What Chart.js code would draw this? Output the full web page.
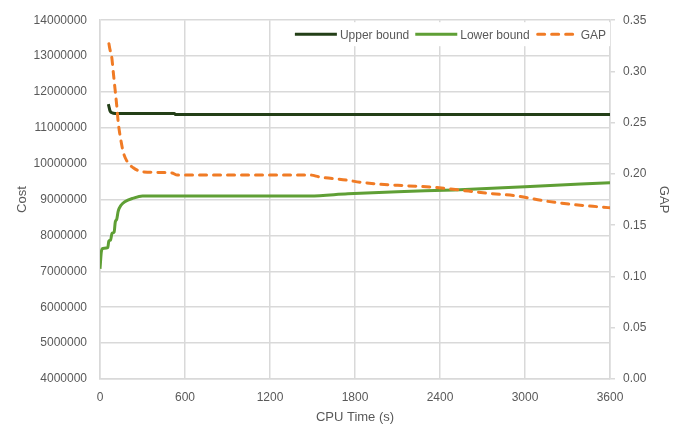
<!DOCTYPE html>
<html>
<head>
<meta charset="utf-8">
<script src="https://cdn.jsdelivr.net/npm/chart.js@4"></script>
<style>
  html, body { margin: 0; padding: 0; background: #fff; }
  #wrap { width: 677px; height: 429px; }
</style>
</head>
<body>
<div id="wrap"><canvas id="boundsChart" width="677" height="429"></canvas></div>
<script>
// Data
const xTicks = [0, 600, 1200, 1800, 2400, 3000, 3600];

const upperTime = [59, 64, 70, 85, 106, 525, 532, 3600];
const upperCost = [11660000, 11580000, 11480000, 11420000, 11400000, 11400000, 11370000, 11370000];

const lowerTime = [0, 10, 20, 55, 62, 75, 85, 100, 108, 118, 128, 150, 175, 235, 300, 1480, 1750, 2100, 2500, 3000, 3600];
const lowerCost = [7070000, 7560000, 7640000, 7660000, 7840000, 7880000, 8060000, 8100000, 8380000, 8450000, 8670000, 8850000, 8940000, 9040000, 9100000, 9100000, 9160000, 9220000, 9270000, 9360000, 9470000];

const gapTime = [63, 71, 82, 94, 106, 118, 129, 146, 165, 188, 235, 306, 506, 546, 1480, 1553, 1741, 1835, 1976, 2165, 2353, 2492, 2753, 2941, 3127, 3318, 3551, 3600];
const gapValue = [0.327, 0.321, 0.315, 0.299, 0.283, 0.267, 0.250, 0.234, 0.221, 0.213, 0.206, 0.202, 0.201, 0.199, 0.199, 0.197, 0.194, 0.192, 0.190, 0.1885, 0.187, 0.185, 0.181, 0.1786, 0.174, 0.1705, 0.1676, 0.167];

const FONT = "'Liberation Sans', Arial, sans-serif";
const TEXT = '#595959';
const GRID = '#d9d9d9';

function toPoints(xs, ys) {
    return xs.map((x, i) => ({ x: x, y: ys[i] }));
}

// legend drawn inside the plot, top right, on a white box
const insideLegend = {
    id: 'insideLegend',
    afterDatasetsDraw(chart) {
        const ctx = chart.ctx;
        const area = chart.chartArea;
        const sample = 42, gapAfterSample = 3, gapBetween = 6;
        const y = area.top + 14;
        ctx.save();
        ctx.font = '12px ' + FONT;
        const items = chart.data.datasets.map(ds => ({
            ds: ds,
            w: sample + gapAfterSample + ctx.measureText(ds.label).width
        }));
        const total = items.reduce((s, it) => s + it.w, 0) + gapBetween * (items.length - 1);
        let x = area.right - 4 - total;

        ctx.fillStyle = '#fff';
        ctx.fillRect(x - 6, area.top + 2, total + 10, 24);

        items.forEach(it => {
            const ds = it.ds;
            ctx.strokeStyle = ds.borderColor;
            ctx.lineWidth = ds.borderWidth;
            ctx.lineCap = ds.borderCapStyle || 'butt';
            ctx.setLineDash(ds.borderDash || []);
            ctx.beginPath();
            ctx.moveTo(x + (ds.borderDash ? 2 : 0), y);
            ctx.lineTo(x + sample - (ds.borderDash ? 2 : 0), y);
            ctx.stroke();
            ctx.setLineDash([]);
            ctx.fillStyle = TEXT;
            ctx.textBaseline = 'middle';
            ctx.textAlign = 'left';
            ctx.fillText(ds.label, x + sample + gapAfterSample, y + 1);
            x += it.w + gapBetween;
        });
        ctx.restore();
    }
};

const ctx = document.getElementById('boundsChart').getContext('2d');
new Chart(ctx, {
    type: 'line',
    data: {
        datasets: [{
            label: 'Upper bound',
            data: toPoints(upperTime, upperCost),
            borderColor: '#233f17',
            backgroundColor: '#233f17',
            borderWidth: 3,
            yAxisID: 'y',
            order: 1
        }, {
            label: 'Lower bound',
            data: toPoints(lowerTime, lowerCost),
            borderColor: '#5f9f35',
            backgroundColor: '#5f9f35',
            borderWidth: 3,
            yAxisID: 'y',
            order: 2
        }, {
            label: 'GAP',
            data: toPoints(gapTime, gapValue),
            borderColor: '#f07b25',
            backgroundColor: '#f07b25',
            borderWidth: 3,
            borderDash: [7, 7],
            borderCapStyle: 'round',
            yAxisID: 'y1',
            order: 0
        }]
    },
    options: {
        responsive: false,
        animation: false,
        maintainAspectRatio: false,
        layout: { padding: { top: 17, right: 0, left: 0, bottom: 0 } },
        elements: {
            point: { radius: 0 },
            line: { cubicInterpolationMode: 'monotone' }
        },
        plugins: {
            tooltip: { enabled: false },
            legend: { display: false }
        },
        scales: {
            x: {
                type: 'linear',
                min: 0,
                max: 3600,
                afterBuildTicks: scale => { scale.ticks = xTicks.map(v => ({ value: v })); },
                afterFit: scale => { scale.height = 50; },
                grid: { color: GRID, lineWidth: 1.5, drawTicks: false },
                border: { color: GRID, width: 1.5 },
                ticks: { color: TEXT, font: { family: FONT, size: 12 }, padding: 11, maxRotation: 0, autoSkip: false, callback: v => String(v) },
                title: { display: true, text: 'CPU Time (s)', color: TEXT, font: { family: FONT, size: 13 }, padding: { top: 0, bottom: 4 } }
            },
            y: {
                position: 'left',
                min: 4000000,
                max: 14000000,
                afterFit: scale => { scale.width = 100; },
                grid: { color: GRID, lineWidth: 1.5, drawTicks: false },
                border: { color: GRID, width: 1.5 },
                ticks: { stepSize: 1000000, autoSkip: false, color: TEXT, font: { family: FONT, size: 12 }, padding: 13, callback: v => String(v) },
                title: { display: true, text: 'Cost', color: TEXT, font: { family: FONT, size: 13 }, padding: { top: 15, bottom: 0 } }
            },
            y1: {
                position: 'right',
                min: 0,
                max: 0.35,
                afterFit: scale => { scale.width = 67; },
                grid: { drawOnChartArea: false, color: GRID, lineWidth: 1.5, tickLength: 5 },
                border: { color: GRID, width: 1.5 },
                ticks: { stepSize: 0.05, autoSkip: false, color: TEXT, font: { family: FONT, size: 12 }, padding: 8, callback: v => v.toFixed(2) },
                title: { display: true, text: 'GAP', color: TEXT, font: { family: FONT, size: 13 }, padding: { top: 6, bottom: 0 } }
            }
        }
    },
    plugins: [insideLegend]
});
</script>
</body>
</html>
